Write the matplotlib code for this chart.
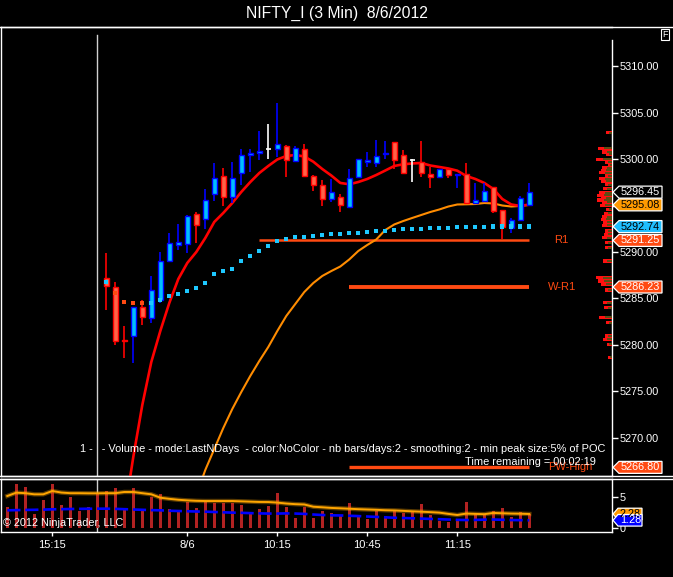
import matplotlib
matplotlib.use('Agg')
import matplotlib.pyplot as plt
import matplotlib.transforms as mtrans
from matplotlib.patches import Polygon, Rectangle
from matplotlib.lines import Line2D

plt.rcParams['font.family'] = ['Liberation Sans', 'DejaVu Sans']

# ---------------- data ----------------
title = "NIFTY_I (3 Min)  8/6/2012"

bar_index = list(range(1, 49))
opens = [5287.17, 5286.20, 5280.50, 5280.99, 5284.04, 5282.93, 5284.83, 5289.00, 5290.80, 5290.90,
         5294.06, 5293.52, 5296.21, 5298.16, 5295.96, 5298.48, 5300.42, 5300.70, 5301.07, 5301.07,
         5301.46, 5299.80, 5301.07, 5298.16, 5297.26, 5295.68, 5295.96, 5294.89, 5298.05, 5299.66,
         5299.56, 5300.53, 5301.82, 5300.42, 5299.88, 5299.70, 5298.37, 5298.05, 5298.98, 5298.27,
         5298.37, 5295.32, 5295.53, 5296.97, 5294.49, 5292.62, 5293.45, 5295.03]
highs = [5289.90, 5286.74, 5282.03, 5284.04, 5284.83, 5287.42, 5289.97, 5292.02, 5293.02, 5294.00,
         5294.35, 5296.79, 5299.63, 5299.05, 5299.70, 5301.07, 5301.07, 5303.04, 5303.80, 5306.02,
         5301.53, 5301.42, 5301.64, 5298.30, 5297.76, 5297.83, 5296.25, 5298.94, 5300.00, 5300.78,
         5302.07, 5301.96, 5301.82, 5300.99, 5300.02, 5301.96, 5299.13, 5298.98, 5298.98, 5298.37,
         5299.56, 5297.47, 5297.40, 5296.97, 5294.53, 5293.70, 5296.03, 5297.40]
lows = [5283.76, 5279.98, 5278.62, 5278.08, 5282.14, 5282.32, 5284.47, 5289.00, 5290.22, 5289.86,
        5291.00, 5292.45, 5295.50, 5294.96, 5295.25, 5297.22, 5298.66, 5299.91, 5300.02, 5300.20,
        5298.12, 5299.74, 5298.12, 5296.61, 5294.99, 5295.43, 5294.35, 5294.82, 5298.05, 5299.16,
        5299.20, 5300.02, 5298.94, 5298.48, 5297.54, 5298.05, 5296.93, 5297.94, 5298.01, 5296.93,
        5295.25, 5295.32, 5295.53, 5294.24, 5291.37, 5292.02, 5293.38, 5295.03]
closes = [5286.38, 5280.45, 5280.40, 5284.04, 5283.04, 5285.91, 5289.00, 5290.94, 5291.08, 5293.92,
          5292.95, 5295.57, 5298.01, 5295.96, 5298.01, 5300.42, 5300.64, 5300.85, 5301.07, 5301.60,
          5299.88, 5301.24, 5298.23, 5297.19, 5295.68, 5296.50, 5295.03, 5298.01, 5299.99, 5299.88,
          5300.31, 5300.63, 5299.95, 5298.55, 5299.88, 5298.48, 5298.05, 5298.91, 5298.27, 5298.37,
          5295.32, 5295.57, 5296.54, 5294.39, 5292.73, 5293.41, 5295.78, 5296.45]

fast_index = list(range(3, 49))
fast_ma = [5261.70, 5267.92, 5273.52, 5278.15, 5281.49, 5284.51, 5287.09, 5288.82, 5290.00, 5291.51,
           5293.24, 5294.21, 5295.28, 5296.47, 5297.54, 5298.51, 5299.27, 5299.97, 5300.34, 5300.45,
           5300.29, 5299.73, 5298.94, 5298.24, 5297.44, 5297.30, 5297.54, 5297.87, 5298.30, 5298.78,
           5299.27, 5299.45, 5299.54, 5299.59, 5299.32, 5299.16, 5299.00, 5298.76, 5298.19, 5297.87,
           5297.44, 5296.79, 5295.71, 5295.12, 5294.96, 5295.12]

slow_index = list(range(11, 49))
slow_ma = [5263.82, 5266.52, 5268.78, 5271.04, 5273.09, 5274.92, 5276.65, 5278.26, 5279.77, 5281.49,
           5283.11, 5284.40, 5285.69, 5286.66, 5287.42, 5287.95, 5288.44, 5289.20, 5290.11, 5290.76,
           5291.35, 5292.37, 5292.97, 5293.34, 5293.67, 5293.99, 5294.31, 5294.58, 5294.90, 5295.12,
           5295.14, 5295.17, 5295.28, 5295.23, 5295.01, 5294.90, 5294.96, 5295.08]

dot_index = list(range(1, 49))
dot_values = [5286.80, 5285.62, 5284.65, 5284.48, 5284.48, 5284.48, 5284.83, 5285.30, 5285.51, 5285.83,
              5286.16, 5286.70, 5287.67, 5287.96, 5288.20, 5289.07, 5289.60, 5290.14, 5290.68, 5291.22,
              5291.44, 5291.59, 5291.65, 5291.76, 5291.87, 5291.97, 5291.97, 5292.08, 5292.08, 5292.19,
              5292.30, 5292.30, 5292.41, 5292.51, 5292.51, 5292.51, 5292.62, 5292.62, 5292.62, 5292.68,
              5292.68, 5292.68, 5292.68, 5292.74, 5292.74, 5292.74, 5292.74, 5292.74]
dot_below_index = [2, 3, 4, 5]

vol_index = list(range(-10, 49))
volume = [3.40, 7.07, 6.59, 2.23, 4.51, 7.07, 3.67, 4.99, 2.76, 3.40,
          5.70, 5.95, 6.43, 3.24, 6.43, 2.76, 4.99, 5.47, 3.08, 2.76,
          4.19, 3.24, 4.19, 4.08, 4.08, 4.08, 3.72, 2.44, 3.08, 3.56,
          5.63, 3.40, 1.65, 3.40, 1.65, 2.76, 2.44, 1.96, 4.03, 2.12,
          1.48, 2.76, 1.96, 2.92, 2.44, 2.60, 3.88, 2.12, 1.16, 1.00,
          1.32, 4.19, 2.44, 2.12, 2.76, 3.24, 1.80, 2.60, 2.28]
vol_avg_slow = [5.15, 5.68, 5.60, 5.42, 5.42, 5.95, 5.70, 5.60, 5.60, 5.58,
                5.58, 5.60, 5.60, 5.79, 5.79, 5.60, 5.42, 4.88, 4.70, 4.55,
                4.45, 4.38, 4.35, 4.35, 4.35, 4.35, 4.30, 4.25, 4.20, 4.19,
                4.10, 3.95, 3.85, 3.80, 3.44, 3.35, 3.25, 3.19, 3.12, 3.05,
                3.00, 2.95, 2.88, 2.85, 2.78, 2.71, 2.65, 2.58, 2.50, 2.30,
                2.12, 2.35, 2.30, 2.25, 2.45, 2.40, 2.35, 2.33, 2.28]
vol_avg_fast = [2.87, 2.90, 2.93, 2.95, 2.98, 3.03, 3.05, 3.08, 3.10, 3.12,
                3.13, 3.13, 3.10, 3.05, 3.00, 2.95, 2.90, 2.87, 2.80, 2.76,
                2.72, 2.68, 2.65, 2.60, 2.55, 2.50, 2.47, 2.42, 2.38, 2.35,
                2.35, 2.38, 2.35, 2.30, 2.20, 2.12, 2.07, 2.05, 2.00, 1.95,
                1.88, 1.82, 1.75, 1.68, 1.64, 1.60, 1.55, 1.50, 1.45, 1.40,
                1.35, 1.32, 1.34, 1.38, 1.40, 1.36, 1.32, 1.30, 1.28]

level_names = ['R1', 'W-R1', 'PW-High']
level_values = [5291.25, 5286.23, 5266.80]
level_start = [18, 28, 28]
level_end = [48, 48, 48]
level_label_x = [51.6, 51.6, 52.6]
level_widths = [1.8, 2.8, 2.4]

time_ticks = [-5, 10, 20, 30, 40]
time_labels = ['15:15', '8/6', '10:15', '10:45', '11:15']
price_ticks = [5270, 5275, 5280, 5285, 5290, 5295, 5300, 5305, 5310]

profile_prices = [5302.85, 5301.17, 5300.78, 5300.53, 5300.00, 5299.70, 5299.34, 5299.08, 5298.80, 5298.55,
                  5298.19, 5297.90, 5297.62, 5297.25, 5296.82, 5296.39, 5296.11, 5295.85, 5295.60, 5295.39,
                  5295.03, 5294.60, 5294.17, 5293.81, 5293.53, 5293.24, 5292.88, 5292.27, 5291.91, 5291.54,
                  5291.00, 5290.47, 5289.03, 5287.23, 5286.88, 5286.52, 5285.91, 5284.54, 5284.00, 5282.97,
                  5282.39, 5280.95, 5280.60, 5280.06, 5278.66]
profile_lengths = [6, 14, 10, 6, 16, 7.3, 4, 10, 11.3, 12.7,
                   6.7, 13.3, 10.7, 6.7, 8.7, 12.7, 14.7, 11.3, 14.7, 10,
                   12, 6, 8, 10, 11.3, 8.7, 10, 6.7, 8, 10,
                   7.3, 6.7, 9.3, 16, 14, 10.7, 6.7, 9.3, 8, 12.7,
                   6, 7.3, 8.7, 5.3, 4]

price_tags = [(5296.45, '#000000', 'white'), (5295.08, '#ff9a00', 'black'),
              (5292.74, '#1ebeff', 'black'), (5291.25, '#ff4a12', 'white'),
              (5286.23, '#ff4a12', 'white'), (5266.80, '#ff4a12', 'white')]
vol_tags = [(2.28, '#ff9a00', 'black'), (1.28, '#0000ff', 'white')]

indicator_text = ("1 -   - Volume - mode:LastNDays  - color:NoColor - nb bars/days:2 - "
                  "smoothing:2 - min peak size:5% of POC")
timer_text = "Time remaining = 00:02:19"
copyright_text = "\u00a9 2012 NinjaTrader, LLC"

# ---------------- layout ----------------
W, H = 673, 577
fig = plt.figure(figsize=(W / 100, H / 100), dpi=100, facecolor='black')

def fx(x):
    return x / W

def fy(y):
    return 1 - y / H

ax = fig.add_axes([fx(1), fy(476), 611 / W, 449 / H], facecolor='black')
axv = fig.add_axes([fx(1), fy(531.7), 611 / W, 52.7 / H], facecolor='black')

XMIN, XMAX = -10.70, 57.19
YMIN, YMAX = 5265.87, 5314.24
ax.set_xlim(XMIN, XMAX)
ax.set_ylim(YMIN, YMAX)
axv.set_xlim(XMIN, XMAX)
axv.set_ylim(-0.54, 7.86)

for a in (ax, axv):
    for s in a.spines.values():
        s.set_color('white')
        s.set_linewidth(1)
ax.spines['right'].set_bounds(YMIN, 5312.85)

ORED = '#ff4a12'
# session break
ax.axvline(0, ymax=0.982, color='#d0d0d0', lw=1, zorder=1)
axv.axvline(0, color='#d0d0d0', lw=1, zorder=1)

# levels
for name, val, s, e, lx, lw in zip(level_names, level_values, level_start, level_end, level_label_x, level_widths):
    ax.hlines(val, s, e, color=ORED, lw=lw, zorder=2)
    ax.text(lx, val, name, color=ORED, fontsize=8, ha='center', va='center', zorder=3)

# moving averages
ax.plot(slow_index, slow_ma, color='#ff8c00', lw=1.5, zorder=3)
ax.plot(fast_index, fast_ma, color='#ff0000', lw=1.9, zorder=3)

# candles
BW = 0.56
for x, o, h, l, c in zip(bar_index, opens, highs, lows, closes):
    if c > o:
        ec, fc = '#0000ff', '#00bfff'
    elif c < o:
        ec, fc = '#ff0000', '#ff6347'
    else:
        ec, fc = '#ffffff', '#ffffff'
    ax.vlines(x, l, h, color=ec, lw=1.2, zorder=4)
    if c == o:
        ax.hlines(o, x - BW / 2, x + BW / 2, color=ec, lw=1.2, zorder=5)
    else:
        ax.add_patch(Rectangle((x - BW / 2, min(o, c)), BW, abs(c - o), facecolor=fc,
                               edgecolor=ec, lw=1.0, zorder=5))

# dots
cols = [ORED if i in dot_below_index else '#1ec8ff' for i in dot_index]
ax.scatter(dot_index, dot_values, marker='s', s=9, c=cols, linewidths=0, zorder=6)

# volume profile
axp = ax.inset_axes([1 - 62 / 611, 0, 62 / 611, 1])
axp.set_xlim(62, 0)
axp.set_ylim(ax.get_ylim())
axp.set_axis_off()
axp.patch.set_alpha(0)
axp.barh(profile_prices, profile_lengths, height=0.36, color='#ff1010', lw=0)
axp.barh(profile_prices, [v * 0.55 for v in profile_lengths], height=0.24, color='#5e4d14', lw=0)

# price axis
ax.yaxis.tick_right()
ax.set_yticks(price_ticks)
ax.set_yticklabels(['%.2f' % v for v in price_ticks])
ax.tick_params(axis='y', colors='white', labelcolor='white', labelsize=7.8, length=4, width=1, pad=1.5)
ax.set_xticks([])

# price tags
tr = mtrans.blended_transform_factory(ax.transAxes, ax.transData)
hh = 6.0 / 9.283
for val, fc, tc in price_tags:
    x0 = 1 + 1 / 611
    x1 = 1 + 7 / 611
    x2 = 1 + 50 / 611
    poly = Polygon([(x0, val), (x1, val + hh), (x2, val + hh), (x2, val - hh), (x1, val - hh)],
                   closed=True, facecolor=fc, edgecolor='white', lw=0.9, transform=tr,
                   clip_on=False, zorder=8)
    ax.add_patch(poly)
    ax.text(1 + 9 / 611, val, '%.2f' % val, color=tc, fontsize=7.8, ha='left', va='center',
            transform=tr, clip_on=False, zorder=9)

# volume panel
axv.bar(vol_index, volume, width=0.3, color='#b22222', zorder=2)
axv.plot(vol_index, vol_avg_slow, color='#ffa500', lw=3.2, alpha=0.35, zorder=3)
axv.plot(vol_index, vol_avg_slow, color='#ffa500', lw=1.4, zorder=3)
axv.plot(vol_index, vol_avg_fast, color='#0000ff', lw=1.9, dashes=(5, 1.8), zorder=3)
axv.yaxis.tick_right()
axv.set_yticks([0, 5])
axv.set_yticklabels(['0', '5'])
axv.tick_params(axis='y', colors='white', labelcolor='white', labelsize=7.8, length=4, width=1, pad=1.5)
axv.set_xticks(time_ticks)
axv.set_xticklabels(time_labels)
axv.tick_params(axis='x', colors='white', labelcolor='white', labelsize=8, length=3, width=1, pad=3)

trv = mtrans.blended_transform_factory(axv.transAxes, axv.transData)
vh = 5.8 / 6.27
for val, fc, tc in vol_tags:
    x0 = 1 + 1 / 611
    x1 = 1 + 6 / 611
    x2 = 1 + 30 / 611
    poly = Polygon([(x0, val), (x1, val + vh), (x2, val + vh), (x2, val - vh), (x1, val - vh)],
                   closed=True, facecolor=fc, edgecolor='white', lw=0.9, transform=trv,
                   clip_on=False, zorder=8)
    axv.add_patch(poly)
    axv.text(1 + 8 / 611, val, '%.2f' % val, color=tc, fontsize=7.8, ha='left', va='center',
             transform=trv, clip_on=False, zorder=9)

# frame lines across the full width
for y in (27, 476, 479):
    fig.add_artist(Line2D([0, 1], [fy(y), fy(y)], color='white', lw=1))

# texts
fig.text(fx(336.5), fy(13), title, color='white', fontsize=11.3, ha='center', va='center')
fig.text(fx(80), fy(449), indicator_text, color='white', fontsize=7.95, ha='left', va='center')
fig.text(fx(596), fy(462), timer_text, color='white', fontsize=7.95, ha='right', va='center')
fig.text(fx(3), fy(523), copyright_text, color='white', fontsize=7.8, ha='left', va='center')
fig.text(fx(665), fy(34.5), 'F', color='white', fontsize=6.5, ha='center', va='center',
         bbox=dict(boxstyle='square,pad=0.15', facecolor='black', edgecolor='white', lw=0.8))

fig.savefig('out.png', dpi=100, facecolor='black')
